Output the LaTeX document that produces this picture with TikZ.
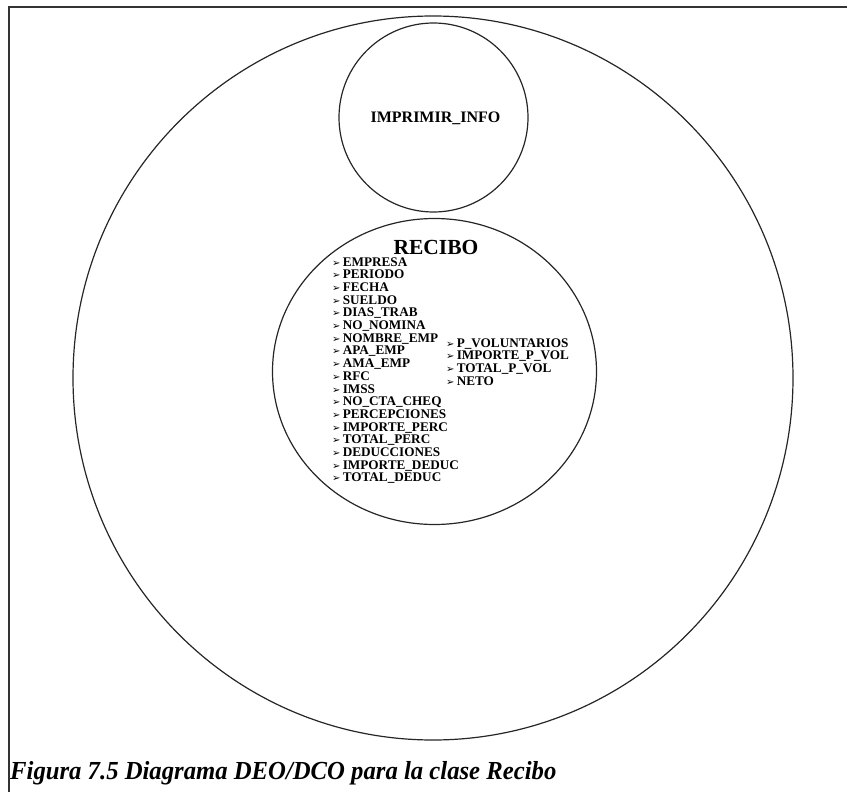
\documentclass[tikz,border=0pt]{standalone}
\usepackage{fontspec}
\usetikzlibrary{shapes.geometric}
\setmainfont{Liberation Serif}
\newfontfamily\dejavu{DejaVu Sans}
\begin{document}
\begin{tikzpicture}[x=1pt,y=-1pt,
  line/.style={draw=black!85,line width=1.2pt},
  item/.style={anchor=base west,inner sep=0pt,font=\fontsize{13.2}{13}\selectfont\bfseries},
  title/.style={anchor=base,inner sep=0pt,font=\fontsize{21.5}{22}\selectfont\bfseries},
  opname/.style={anchor=base,inner sep=0pt,font=\fontsize{16}{17}\selectfont\bfseries}]
\newcommand{\arr}{{\dejavu\fontsize{10}{10}\selectfont\char"27A2}}
\useasboundingbox (0,0) rectangle (847,792);
% frame
\coordinate (ftl) at (9,7);
\coordinate (ftr) at (847,7);
\coordinate (fbl) at (9,792);
\draw[line width=1.5pt,black!80] (ftr) -- (ftl) -- (fbl);
% outer object
\node[line,ellipse,minimum width=720pt,minimum height=724pt,inner sep=0pt] (outer) at (433,378) {};
% method
\node[line,circle,minimum size=189pt,inner sep=0pt] (imp) at (433.5,117.5) {};
\node[opname] (impt) at (435.5,123) {IMPRIMIR\_INFO};
% class
\node[line,ellipse,minimum width=324pt,minimum height=306pt,inner sep=0pt] (rec) at (434.5,371.5) {};
\node[title] (rect) at (436,254) {RECIBO};
\foreach \t [count=\i from 0] in {EMPRESA,PERIODO,FECHA,SUELDO,DIAS\_TRAB,NO\_NOMINA,NOMBRE\_EMP,APA\_EMP,AMA\_EMP,RFC,IMSS,NO\_CTA\_CHEQ,PERCEPCIONES,IMPORTE\_PERC,TOTAL\_PERC,DEDUCCIONES,IMPORTE\_DEDUC,TOTAL\_DEDUC}
  \node[item] (l\i) at (332,266+12.7*\i) {\arr\,\t};
\foreach \t [count=\i from 0] in {P\_VOLUNTARIOS,IMPORTE\_P\_VOL,TOTAL\_P\_VOL,NETO}
  \node[item] (r\i) at (446,347+12.7*\i) {\arr\,\t};
% caption
\node[anchor=base west,inner sep=0pt,xscale=0.95,font=\fontsize{26}{28}\selectfont\bfseries\itshape] (cap) at (10,779) {Figura 7.5 Diagrama DEO/DCO para la clase Recibo};
\end{tikzpicture}
\end{document}
